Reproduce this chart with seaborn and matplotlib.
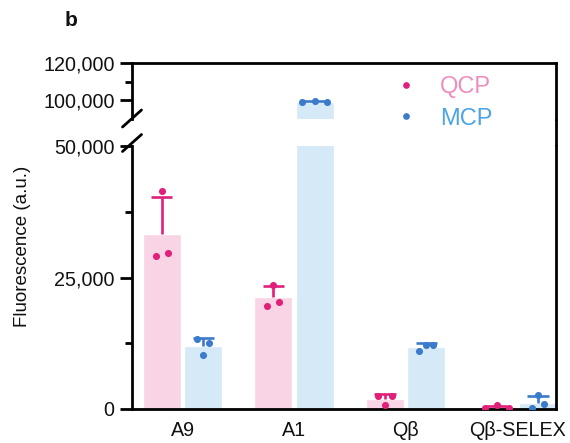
import numpy as np
import pandas as pd
import matplotlib
matplotlib.use("Agg")
import matplotlib.pyplot as plt
from matplotlib.lines import Line2D
from matplotlib.ticker import FixedLocator, FuncFormatter
import seaborn as sns

# ---------------- data ----------------
constructs = ["A9", "A1", "Qβ", "Qβ-SELEX"]
proteins = ["QCP", "MCP"]
# replicate values (left, middle, right as drawn)
qcp_reps = [[29000, 41400, 29600],
            [19600, 23600, 20400],
            [2500, 700, 2400],
            [100, 700, 150]]
mcp_reps = [[13300, 10300, 12500],
            [98800, 99500, 98800],
            [11100, 12200, 12200],
            [100, 2600, 950]]
lower_ticks = [0, 25000, 50000]
lower_minor = [12500, 37500]
upper_ticks = [100000, 120000]
upper_minor = [110000]

# ---------------- style ----------------
bar_colors = {"QCP": "#F9D4E4", "MCP": "#D5E9F7"}
pt_colors = {"QCP": "#E1207C", "MCP": "#3B7BCB"}
label_colors = {"QCP": "#EE8DBF", "MCP": "#4BA4E3"}
jitter = {"QCP": [0.054, 0.054, 0.063, 0.108],
          "MCP": [0.054, 0.112, 0.063, 0.054]}
hue_off = {"QCP": -0.185, "MCP": 0.185}

sns.set_style("ticks")
plt.rcParams["font.family"] = ["Liberation Sans", "DejaVu Sans"]
plt.rcParams["text.color"] = "#111111"
plt.rcParams["xtick.color"] = "#111111"
plt.rcParams["ytick.color"] = "#111111"
plt.rcParams["xtick.labelcolor"] = "#111111"
plt.rcParams["ytick.labelcolor"] = "#111111"
FS = 14.2

rows = []
for prot, reps in zip(proteins, [qcp_reps, mcp_reps]):
    for c, vals in zip(constructs, reps):
        for i, v in enumerate(vals):
            rows.append({"construct": c, "protein": prot, "rep": i, "value": v})
df = pd.DataFrame(rows)

fig = plt.figure(figsize=(5.7, 4.43), dpi=100)
L, W = 132 / 570, 424 / 570
B_lo, H_lo = 1 - 409 / 443, 263 / 443
B_hi, H_hi = 1 - 118.5 / 443, 55.5 / 443
ax_lo = fig.add_axes([L, B_lo, W, H_lo])
ax_hi = fig.add_axes([L, B_hi, W, H_hi])

LW = 2.0
for ax in (ax_lo, ax_hi):
    sns.barplot(data=df, x="construct", y="value", hue="protein",
                order=constructs, hue_order=proteins, palette=bar_colors,
                estimator="mean", errorbar=None, width=0.74, gap=0.08,
                saturation=1, legend=False, ax=ax, zorder=1)
    stats = df.groupby(["protein", "construct"])["value"].agg(["mean", "std"])
    for prot in proteins:
        for ci, c in enumerate(constructs):
            m, s = stats.loc[(prot, c)]
            xc = ci + hue_off[prot]
            ax.vlines(xc, m, m + s, color=pt_colors[prot], lw=1.9, zorder=3)
            ax.hlines(m + s, xc - 0.095, xc + 0.095, color=pt_colors[prot], lw=1.9, zorder=3)
            vals = df[(df.protein == prot) & (df.construct == c)].sort_values("rep")["value"].values
            sp = jitter[prot][ci]
            xs = xc + np.array([-sp, 0, sp])
            ax.scatter(xs, vals, s=26, color=pt_colors[prot], zorder=4, linewidths=0)
    ax.set_xlim(-0.4525, 3.347)
    ax.set_xlabel("")
    ax.set_ylabel("")
    for sp_name in ("left", "right", "top", "bottom"):
        ax.spines[sp_name].set_linewidth(LW)
        ax.spines[sp_name].set_color("black")
    ax.tick_params(axis="y", which="major", length=8.5, width=LW, labelsize=FS, pad=4, color="black")
    ax.tick_params(axis="y", which="minor", length=5, width=LW, color="black")
    ax.yaxis.set_major_formatter(FuncFormatter(lambda v, p: f"{int(v):,}"))

ax_lo.set_ylim(0, 50000)
ax_lo.yaxis.set_major_locator(FixedLocator(lower_ticks))
ax_lo.yaxis.set_minor_locator(FixedLocator(lower_minor))
ax_lo.spines["top"].set_visible(False)
ax_lo.tick_params(axis="x", length=0, labelsize=FS, pad=9)

ax_hi.set_ylim(90000, 120000)
ax_hi.yaxis.set_major_locator(FixedLocator(upper_ticks))
ax_hi.yaxis.set_minor_locator(FixedLocator(upper_minor))
ax_hi.spines["bottom"].set_visible(False)
ax_hi.tick_params(axis="x", which="both", length=0, labelbottom=False)

# continuous right spine across the break
R = L + W
fig.add_artist(Line2D([R, R], [B_lo + H_lo, B_hi], transform=fig.transFigure,
                      color="black", lw=LW, solid_capstyle="butt"))
# break marks on the left spine
dx, dy = 9.5 / 570, 8.5 / 443
for yb in (B_hi, B_lo + H_lo + 3 / 443):
    fig.add_artist(Line2D([L - dx, L + dx], [yb - dy, yb + dy], transform=fig.transFigure,
                          color="black", lw=LW))

# legend
LFS = 17
handles = [Line2D([], [], marker="o", ls="", color=pt_colors[p], markersize=3.8) for p in proteins]
fig.legend(handles, proteins, loc="upper left", bbox_to_anchor=(367 / 570, 1 - 55 / 443),
           frameon=False, fontsize=LFS, labelcolor=[label_colors[p] for p in proteins],
           handlelength=1.5, handletextpad=0.7, labelspacing=0.4, borderpad=0.4)

fig.text(0.040, 1 - 246 / 443, "Fluorescence (a.u.)", rotation=90, ha="center", va="center",
         fontsize=13.5)
fig.text(65 / 570, 1 - 21 / 443, "b", fontsize=15, fontweight="bold", ha="left", va="center")

fig.savefig("out.png", dpi=100)
